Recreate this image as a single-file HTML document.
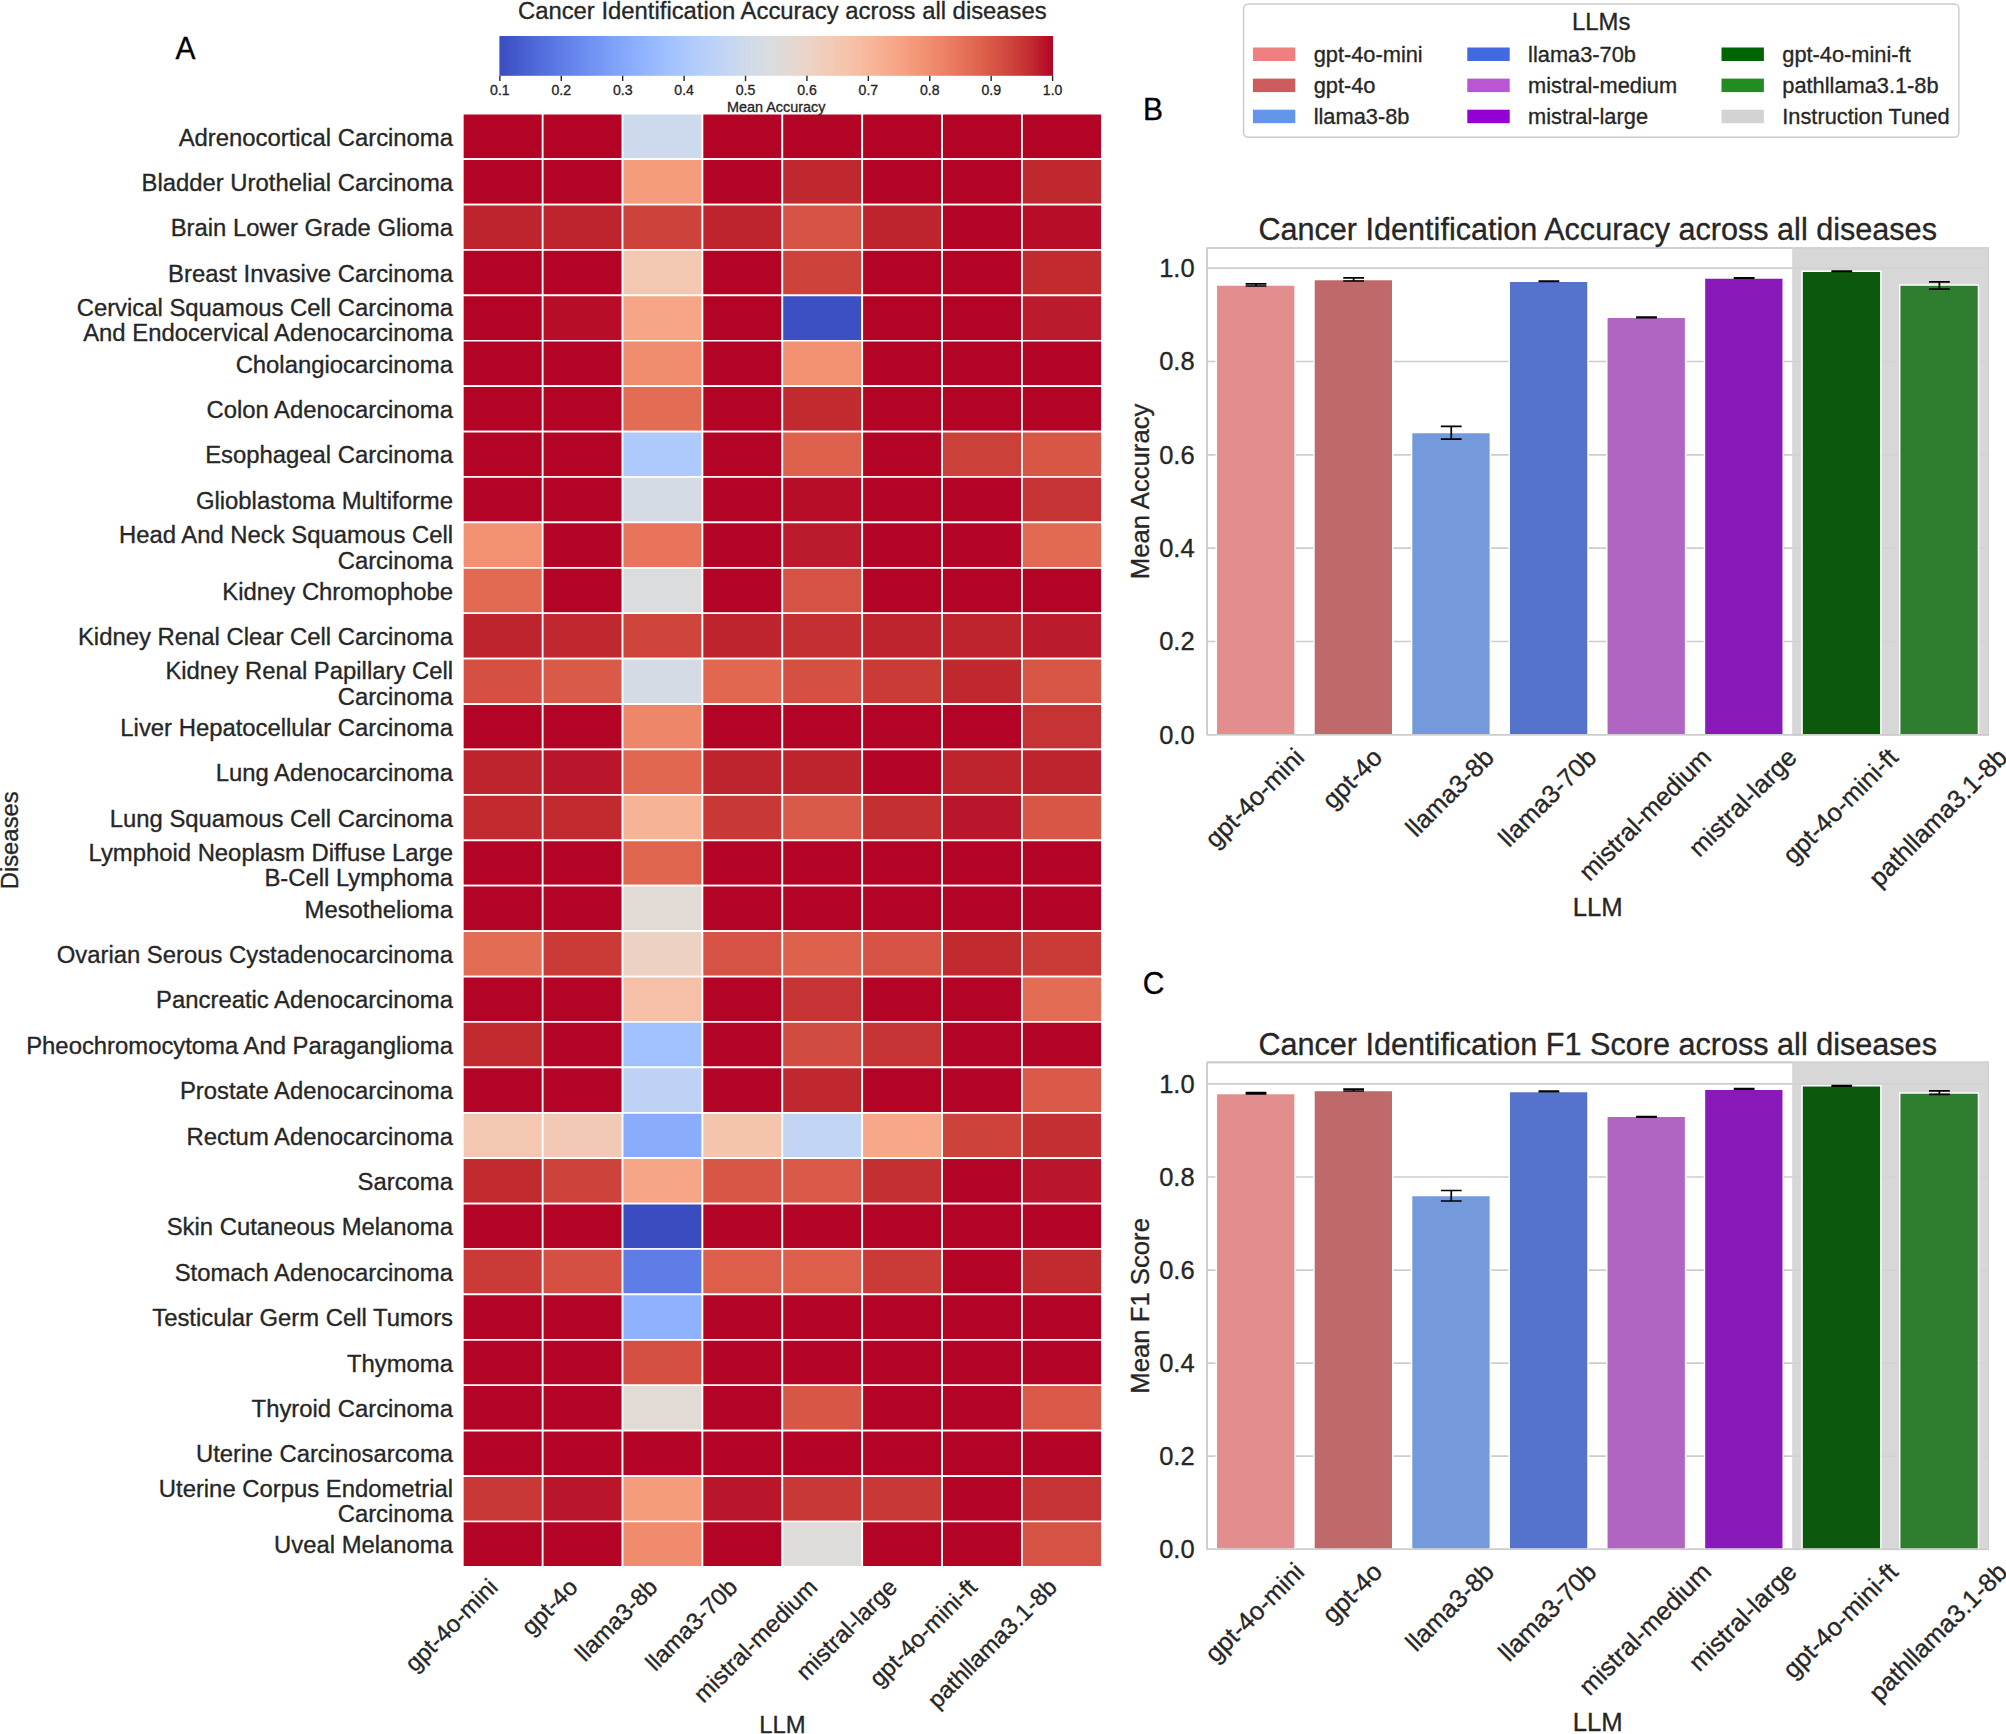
<!DOCTYPE html>
<html><head><meta charset="utf-8"><title>Cancer Identification Accuracy</title>
<style>html,body{margin:0;padding:0;background:#fff}svg{display:block}</style></head>
<body>
<svg width="2006" height="1734" viewBox="0 0 2006 1734" font-family="'Liberation Sans', sans-serif" stroke-linejoin="round">
<style>text{stroke:#262626;stroke-width:0.32px}text.k{stroke:#000}</style>
<rect width="2006" height="1734" fill="#fff"/>
<defs><linearGradient id="cwg" x1="0" x2="1" y1="0" y2="0"><stop offset="0.0000" stop-color="#3b4cc0"/><stop offset="0.0156" stop-color="#3f53c6"/><stop offset="0.0312" stop-color="#445acc"/><stop offset="0.0469" stop-color="#4961d2"/><stop offset="0.0625" stop-color="#4e68d8"/><stop offset="0.0781" stop-color="#536edd"/><stop offset="0.0938" stop-color="#5875e1"/><stop offset="0.1094" stop-color="#5d7ce6"/><stop offset="0.1250" stop-color="#6282ea"/><stop offset="0.1406" stop-color="#6788ee"/><stop offset="0.1562" stop-color="#6c8ff1"/><stop offset="0.1719" stop-color="#7295f4"/><stop offset="0.1875" stop-color="#779af7"/><stop offset="0.2031" stop-color="#7da0f9"/><stop offset="0.2188" stop-color="#82a6fb"/><stop offset="0.2344" stop-color="#88abfd"/><stop offset="0.2500" stop-color="#8db0fe"/><stop offset="0.2656" stop-color="#93b5fe"/><stop offset="0.2812" stop-color="#98b9ff"/><stop offset="0.2969" stop-color="#9ebeff"/><stop offset="0.3125" stop-color="#a3c2fe"/><stop offset="0.3281" stop-color="#a9c6fd"/><stop offset="0.3438" stop-color="#aec9fc"/><stop offset="0.3594" stop-color="#b3cdfb"/><stop offset="0.3750" stop-color="#b9d0f9"/><stop offset="0.3906" stop-color="#bed2f6"/><stop offset="0.4062" stop-color="#c3d5f4"/><stop offset="0.4219" stop-color="#c7d7f0"/><stop offset="0.4375" stop-color="#ccd9ed"/><stop offset="0.4531" stop-color="#d1dae9"/><stop offset="0.4688" stop-color="#d5dbe5"/><stop offset="0.4844" stop-color="#d9dce1"/><stop offset="0.5000" stop-color="#dddcdc"/><stop offset="0.5156" stop-color="#e1dad6"/><stop offset="0.5312" stop-color="#e5d8d1"/><stop offset="0.5469" stop-color="#e9d5cb"/><stop offset="0.5625" stop-color="#ecd3c5"/><stop offset="0.5781" stop-color="#efcfbf"/><stop offset="0.5938" stop-color="#f1ccb8"/><stop offset="0.6094" stop-color="#f3c8b2"/><stop offset="0.6250" stop-color="#f5c4ac"/><stop offset="0.6406" stop-color="#f6bfa6"/><stop offset="0.6562" stop-color="#f7ba9f"/><stop offset="0.6719" stop-color="#f7b599"/><stop offset="0.6875" stop-color="#f7b093"/><stop offset="0.7031" stop-color="#f7aa8c"/><stop offset="0.7188" stop-color="#f6a586"/><stop offset="0.7344" stop-color="#f59f80"/><stop offset="0.7500" stop-color="#f4987a"/><stop offset="0.7656" stop-color="#f29274"/><stop offset="0.7812" stop-color="#f08b6e"/><stop offset="0.7969" stop-color="#ee8468"/><stop offset="0.8125" stop-color="#eb7d62"/><stop offset="0.8281" stop-color="#e8765c"/><stop offset="0.8438" stop-color="#e46e56"/><stop offset="0.8594" stop-color="#e16751"/><stop offset="0.8750" stop-color="#dd5f4b"/><stop offset="0.8906" stop-color="#d85646"/><stop offset="0.9062" stop-color="#d44e41"/><stop offset="0.9219" stop-color="#cf453c"/><stop offset="0.9375" stop-color="#ca3b37"/><stop offset="0.9531" stop-color="#c43032"/><stop offset="0.9688" stop-color="#be242e"/><stop offset="0.9844" stop-color="#b8122a"/><stop offset="1.0000" stop-color="#b40426"/></linearGradient></defs>
<text x="782.35" y="18.60" font-size="23.85" text-anchor="middle" fill="#262626">Cancer Identification Accuracy across all diseases</text>
<rect x="499.4" y="36.0" width="553.6" height="39.8" fill="url(#cwg)"/>
<line x1="499.85" x2="499.85" y1="75.8" y2="81.0" stroke="#262626" stroke-width="1.4"/>
<text x="499.85" y="94.80" font-size="14.1" text-anchor="middle" fill="#262626">0.1</text>
<line x1="561.27" x2="561.27" y1="75.8" y2="81.0" stroke="#262626" stroke-width="1.4"/>
<text x="561.27" y="94.80" font-size="14.1" text-anchor="middle" fill="#262626">0.2</text>
<line x1="622.68" x2="622.68" y1="75.8" y2="81.0" stroke="#262626" stroke-width="1.4"/>
<text x="622.68" y="94.80" font-size="14.1" text-anchor="middle" fill="#262626">0.3</text>
<line x1="684.10" x2="684.10" y1="75.8" y2="81.0" stroke="#262626" stroke-width="1.4"/>
<text x="684.10" y="94.80" font-size="14.1" text-anchor="middle" fill="#262626">0.4</text>
<line x1="745.52" x2="745.52" y1="75.8" y2="81.0" stroke="#262626" stroke-width="1.4"/>
<text x="745.52" y="94.80" font-size="14.1" text-anchor="middle" fill="#262626">0.5</text>
<line x1="806.93" x2="806.93" y1="75.8" y2="81.0" stroke="#262626" stroke-width="1.4"/>
<text x="806.93" y="94.80" font-size="14.1" text-anchor="middle" fill="#262626">0.6</text>
<line x1="868.35" x2="868.35" y1="75.8" y2="81.0" stroke="#262626" stroke-width="1.4"/>
<text x="868.35" y="94.80" font-size="14.1" text-anchor="middle" fill="#262626">0.7</text>
<line x1="929.77" x2="929.77" y1="75.8" y2="81.0" stroke="#262626" stroke-width="1.4"/>
<text x="929.77" y="94.80" font-size="14.1" text-anchor="middle" fill="#262626">0.8</text>
<line x1="991.18" x2="991.18" y1="75.8" y2="81.0" stroke="#262626" stroke-width="1.4"/>
<text x="991.18" y="94.80" font-size="14.1" text-anchor="middle" fill="#262626">0.9</text>
<line x1="1052.60" x2="1052.60" y1="75.8" y2="81.0" stroke="#262626" stroke-width="1.4"/>
<text x="1052.60" y="94.80" font-size="14.1" text-anchor="middle" fill="#262626">1.0</text>
<rect x="462.80" y="113.70" width="79.89" height="45.41" fill="#b40426" stroke="#fff" stroke-width="1.7"/>
<rect x="542.69" y="113.70" width="79.89" height="45.41" fill="#b40426" stroke="#fff" stroke-width="1.7"/>
<rect x="622.58" y="113.70" width="79.89" height="45.41" fill="#cdd9ec" stroke="#fff" stroke-width="1.7"/>
<rect x="702.46" y="113.70" width="79.89" height="45.41" fill="#b40426" stroke="#fff" stroke-width="1.7"/>
<rect x="782.35" y="113.70" width="79.89" height="45.41" fill="#b40426" stroke="#fff" stroke-width="1.7"/>
<rect x="862.24" y="113.70" width="79.89" height="45.41" fill="#b40426" stroke="#fff" stroke-width="1.7"/>
<rect x="942.13" y="113.70" width="79.89" height="45.41" fill="#b40426" stroke="#fff" stroke-width="1.7"/>
<rect x="1022.01" y="113.70" width="79.89" height="45.41" fill="#b40426" stroke="#fff" stroke-width="1.7"/>
<rect x="462.80" y="159.11" width="79.89" height="45.41" fill="#b40426" stroke="#fff" stroke-width="1.7"/>
<rect x="542.69" y="159.11" width="79.89" height="45.41" fill="#b40426" stroke="#fff" stroke-width="1.7"/>
<rect x="622.58" y="159.11" width="79.89" height="45.41" fill="#f59c7d" stroke="#fff" stroke-width="1.7"/>
<rect x="702.46" y="159.11" width="79.89" height="45.41" fill="#b40426" stroke="#fff" stroke-width="1.7"/>
<rect x="782.35" y="159.11" width="79.89" height="45.41" fill="#c0282f" stroke="#fff" stroke-width="1.7"/>
<rect x="862.24" y="159.11" width="79.89" height="45.41" fill="#b40426" stroke="#fff" stroke-width="1.7"/>
<rect x="942.13" y="159.11" width="79.89" height="45.41" fill="#b40426" stroke="#fff" stroke-width="1.7"/>
<rect x="1022.01" y="159.11" width="79.89" height="45.41" fill="#c0282f" stroke="#fff" stroke-width="1.7"/>
<rect x="462.80" y="204.53" width="79.89" height="45.41" fill="#be242e" stroke="#fff" stroke-width="1.7"/>
<rect x="542.69" y="204.53" width="79.89" height="45.41" fill="#be242e" stroke="#fff" stroke-width="1.7"/>
<rect x="622.58" y="204.53" width="79.89" height="45.41" fill="#cd423b" stroke="#fff" stroke-width="1.7"/>
<rect x="702.46" y="204.53" width="79.89" height="45.41" fill="#be242e" stroke="#fff" stroke-width="1.7"/>
<rect x="782.35" y="204.53" width="79.89" height="45.41" fill="#d65244" stroke="#fff" stroke-width="1.7"/>
<rect x="862.24" y="204.53" width="79.89" height="45.41" fill="#be242e" stroke="#fff" stroke-width="1.7"/>
<rect x="942.13" y="204.53" width="79.89" height="45.41" fill="#b40426" stroke="#fff" stroke-width="1.7"/>
<rect x="1022.01" y="204.53" width="79.89" height="45.41" fill="#b70d28" stroke="#fff" stroke-width="1.7"/>
<rect x="462.80" y="249.94" width="79.89" height="45.41" fill="#b40426" stroke="#fff" stroke-width="1.7"/>
<rect x="542.69" y="249.94" width="79.89" height="45.41" fill="#b40426" stroke="#fff" stroke-width="1.7"/>
<rect x="622.58" y="249.94" width="79.89" height="45.41" fill="#f3c8b2" stroke="#fff" stroke-width="1.7"/>
<rect x="702.46" y="249.94" width="79.89" height="45.41" fill="#b40426" stroke="#fff" stroke-width="1.7"/>
<rect x="782.35" y="249.94" width="79.89" height="45.41" fill="#cd423b" stroke="#fff" stroke-width="1.7"/>
<rect x="862.24" y="249.94" width="79.89" height="45.41" fill="#b40426" stroke="#fff" stroke-width="1.7"/>
<rect x="942.13" y="249.94" width="79.89" height="45.41" fill="#b40426" stroke="#fff" stroke-width="1.7"/>
<rect x="1022.01" y="249.94" width="79.89" height="45.41" fill="#c12b30" stroke="#fff" stroke-width="1.7"/>
<rect x="462.80" y="295.35" width="79.89" height="45.41" fill="#b40426" stroke="#fff" stroke-width="1.7"/>
<rect x="542.69" y="295.35" width="79.89" height="45.41" fill="#b70d28" stroke="#fff" stroke-width="1.7"/>
<rect x="622.58" y="295.35" width="79.89" height="45.41" fill="#f6a586" stroke="#fff" stroke-width="1.7"/>
<rect x="702.46" y="295.35" width="79.89" height="45.41" fill="#b40426" stroke="#fff" stroke-width="1.7"/>
<rect x="782.35" y="295.35" width="79.89" height="45.41" fill="#3d50c3" stroke="#fff" stroke-width="1.7"/>
<rect x="862.24" y="295.35" width="79.89" height="45.41" fill="#b40426" stroke="#fff" stroke-width="1.7"/>
<rect x="942.13" y="295.35" width="79.89" height="45.41" fill="#b40426" stroke="#fff" stroke-width="1.7"/>
<rect x="1022.01" y="295.35" width="79.89" height="45.41" fill="#bb1b2c" stroke="#fff" stroke-width="1.7"/>
<rect x="462.80" y="340.76" width="79.89" height="45.41" fill="#b40426" stroke="#fff" stroke-width="1.7"/>
<rect x="542.69" y="340.76" width="79.89" height="45.41" fill="#b40426" stroke="#fff" stroke-width="1.7"/>
<rect x="622.58" y="340.76" width="79.89" height="45.41" fill="#f18d6f" stroke="#fff" stroke-width="1.7"/>
<rect x="702.46" y="340.76" width="79.89" height="45.41" fill="#b40426" stroke="#fff" stroke-width="1.7"/>
<rect x="782.35" y="340.76" width="79.89" height="45.41" fill="#f29072" stroke="#fff" stroke-width="1.7"/>
<rect x="862.24" y="340.76" width="79.89" height="45.41" fill="#b40426" stroke="#fff" stroke-width="1.7"/>
<rect x="942.13" y="340.76" width="79.89" height="45.41" fill="#b40426" stroke="#fff" stroke-width="1.7"/>
<rect x="1022.01" y="340.76" width="79.89" height="45.41" fill="#b40426" stroke="#fff" stroke-width="1.7"/>
<rect x="462.80" y="386.18" width="79.89" height="45.41" fill="#b40426" stroke="#fff" stroke-width="1.7"/>
<rect x="542.69" y="386.18" width="79.89" height="45.41" fill="#b40426" stroke="#fff" stroke-width="1.7"/>
<rect x="622.58" y="386.18" width="79.89" height="45.41" fill="#e36c55" stroke="#fff" stroke-width="1.7"/>
<rect x="702.46" y="386.18" width="79.89" height="45.41" fill="#b40426" stroke="#fff" stroke-width="1.7"/>
<rect x="782.35" y="386.18" width="79.89" height="45.41" fill="#c12b30" stroke="#fff" stroke-width="1.7"/>
<rect x="862.24" y="386.18" width="79.89" height="45.41" fill="#b40426" stroke="#fff" stroke-width="1.7"/>
<rect x="942.13" y="386.18" width="79.89" height="45.41" fill="#b40426" stroke="#fff" stroke-width="1.7"/>
<rect x="1022.01" y="386.18" width="79.89" height="45.41" fill="#b40426" stroke="#fff" stroke-width="1.7"/>
<rect x="462.80" y="431.59" width="79.89" height="45.41" fill="#b40426" stroke="#fff" stroke-width="1.7"/>
<rect x="542.69" y="431.59" width="79.89" height="45.41" fill="#b40426" stroke="#fff" stroke-width="1.7"/>
<rect x="622.58" y="431.59" width="79.89" height="45.41" fill="#aec9fc" stroke="#fff" stroke-width="1.7"/>
<rect x="702.46" y="431.59" width="79.89" height="45.41" fill="#b40426" stroke="#fff" stroke-width="1.7"/>
<rect x="782.35" y="431.59" width="79.89" height="45.41" fill="#de614d" stroke="#fff" stroke-width="1.7"/>
<rect x="862.24" y="431.59" width="79.89" height="45.41" fill="#b40426" stroke="#fff" stroke-width="1.7"/>
<rect x="942.13" y="431.59" width="79.89" height="45.41" fill="#cc403a" stroke="#fff" stroke-width="1.7"/>
<rect x="1022.01" y="431.59" width="79.89" height="45.41" fill="#d85646" stroke="#fff" stroke-width="1.7"/>
<rect x="462.80" y="477.00" width="79.89" height="45.41" fill="#b40426" stroke="#fff" stroke-width="1.7"/>
<rect x="542.69" y="477.00" width="79.89" height="45.41" fill="#b40426" stroke="#fff" stroke-width="1.7"/>
<rect x="622.58" y="477.00" width="79.89" height="45.41" fill="#d5dbe5" stroke="#fff" stroke-width="1.7"/>
<rect x="702.46" y="477.00" width="79.89" height="45.41" fill="#b40426" stroke="#fff" stroke-width="1.7"/>
<rect x="782.35" y="477.00" width="79.89" height="45.41" fill="#b70d28" stroke="#fff" stroke-width="1.7"/>
<rect x="862.24" y="477.00" width="79.89" height="45.41" fill="#b40426" stroke="#fff" stroke-width="1.7"/>
<rect x="942.13" y="477.00" width="79.89" height="45.41" fill="#b40426" stroke="#fff" stroke-width="1.7"/>
<rect x="1022.01" y="477.00" width="79.89" height="45.41" fill="#c53334" stroke="#fff" stroke-width="1.7"/>
<rect x="462.80" y="522.41" width="79.89" height="45.41" fill="#f29072" stroke="#fff" stroke-width="1.7"/>
<rect x="542.69" y="522.41" width="79.89" height="45.41" fill="#b40426" stroke="#fff" stroke-width="1.7"/>
<rect x="622.58" y="522.41" width="79.89" height="45.41" fill="#e7745b" stroke="#fff" stroke-width="1.7"/>
<rect x="702.46" y="522.41" width="79.89" height="45.41" fill="#b40426" stroke="#fff" stroke-width="1.7"/>
<rect x="782.35" y="522.41" width="79.89" height="45.41" fill="#bb1b2c" stroke="#fff" stroke-width="1.7"/>
<rect x="862.24" y="522.41" width="79.89" height="45.41" fill="#b40426" stroke="#fff" stroke-width="1.7"/>
<rect x="942.13" y="522.41" width="79.89" height="45.41" fill="#b40426" stroke="#fff" stroke-width="1.7"/>
<rect x="1022.01" y="522.41" width="79.89" height="45.41" fill="#e26952" stroke="#fff" stroke-width="1.7"/>
<rect x="462.80" y="567.83" width="79.89" height="45.41" fill="#e26952" stroke="#fff" stroke-width="1.7"/>
<rect x="542.69" y="567.83" width="79.89" height="45.41" fill="#b40426" stroke="#fff" stroke-width="1.7"/>
<rect x="622.58" y="567.83" width="79.89" height="45.41" fill="#dbdcde" stroke="#fff" stroke-width="1.7"/>
<rect x="702.46" y="567.83" width="79.89" height="45.41" fill="#b40426" stroke="#fff" stroke-width="1.7"/>
<rect x="782.35" y="567.83" width="79.89" height="45.41" fill="#d65244" stroke="#fff" stroke-width="1.7"/>
<rect x="862.24" y="567.83" width="79.89" height="45.41" fill="#b40426" stroke="#fff" stroke-width="1.7"/>
<rect x="942.13" y="567.83" width="79.89" height="45.41" fill="#b40426" stroke="#fff" stroke-width="1.7"/>
<rect x="1022.01" y="567.83" width="79.89" height="45.41" fill="#b40426" stroke="#fff" stroke-width="1.7"/>
<rect x="462.80" y="613.24" width="79.89" height="45.41" fill="#be242e" stroke="#fff" stroke-width="1.7"/>
<rect x="542.69" y="613.24" width="79.89" height="45.41" fill="#c0282f" stroke="#fff" stroke-width="1.7"/>
<rect x="622.58" y="613.24" width="79.89" height="45.41" fill="#cf453c" stroke="#fff" stroke-width="1.7"/>
<rect x="702.46" y="613.24" width="79.89" height="45.41" fill="#be242e" stroke="#fff" stroke-width="1.7"/>
<rect x="782.35" y="613.24" width="79.89" height="45.41" fill="#c43032" stroke="#fff" stroke-width="1.7"/>
<rect x="862.24" y="613.24" width="79.89" height="45.41" fill="#be242e" stroke="#fff" stroke-width="1.7"/>
<rect x="942.13" y="613.24" width="79.89" height="45.41" fill="#be242e" stroke="#fff" stroke-width="1.7"/>
<rect x="1022.01" y="613.24" width="79.89" height="45.41" fill="#bb1b2c" stroke="#fff" stroke-width="1.7"/>
<rect x="462.80" y="658.65" width="79.89" height="45.41" fill="#d55042" stroke="#fff" stroke-width="1.7"/>
<rect x="542.69" y="658.65" width="79.89" height="45.41" fill="#da5a49" stroke="#fff" stroke-width="1.7"/>
<rect x="622.58" y="658.65" width="79.89" height="45.41" fill="#d5dbe5" stroke="#fff" stroke-width="1.7"/>
<rect x="702.46" y="658.65" width="79.89" height="45.41" fill="#e16751" stroke="#fff" stroke-width="1.7"/>
<rect x="782.35" y="658.65" width="79.89" height="45.41" fill="#d55042" stroke="#fff" stroke-width="1.7"/>
<rect x="862.24" y="658.65" width="79.89" height="45.41" fill="#ca3b37" stroke="#fff" stroke-width="1.7"/>
<rect x="942.13" y="658.65" width="79.89" height="45.41" fill="#c0282f" stroke="#fff" stroke-width="1.7"/>
<rect x="1022.01" y="658.65" width="79.89" height="45.41" fill="#d85646" stroke="#fff" stroke-width="1.7"/>
<rect x="462.80" y="704.06" width="79.89" height="45.41" fill="#b40426" stroke="#fff" stroke-width="1.7"/>
<rect x="542.69" y="704.06" width="79.89" height="45.41" fill="#b40426" stroke="#fff" stroke-width="1.7"/>
<rect x="622.58" y="704.06" width="79.89" height="45.41" fill="#ee8669" stroke="#fff" stroke-width="1.7"/>
<rect x="702.46" y="704.06" width="79.89" height="45.41" fill="#b40426" stroke="#fff" stroke-width="1.7"/>
<rect x="782.35" y="704.06" width="79.89" height="45.41" fill="#b40426" stroke="#fff" stroke-width="1.7"/>
<rect x="862.24" y="704.06" width="79.89" height="45.41" fill="#b40426" stroke="#fff" stroke-width="1.7"/>
<rect x="942.13" y="704.06" width="79.89" height="45.41" fill="#b40426" stroke="#fff" stroke-width="1.7"/>
<rect x="1022.01" y="704.06" width="79.89" height="45.41" fill="#c53334" stroke="#fff" stroke-width="1.7"/>
<rect x="462.80" y="749.48" width="79.89" height="45.41" fill="#be242e" stroke="#fff" stroke-width="1.7"/>
<rect x="542.69" y="749.48" width="79.89" height="45.41" fill="#ba162b" stroke="#fff" stroke-width="1.7"/>
<rect x="622.58" y="749.48" width="79.89" height="45.41" fill="#e16751" stroke="#fff" stroke-width="1.7"/>
<rect x="702.46" y="749.48" width="79.89" height="45.41" fill="#be242e" stroke="#fff" stroke-width="1.7"/>
<rect x="782.35" y="749.48" width="79.89" height="45.41" fill="#be242e" stroke="#fff" stroke-width="1.7"/>
<rect x="862.24" y="749.48" width="79.89" height="45.41" fill="#b40426" stroke="#fff" stroke-width="1.7"/>
<rect x="942.13" y="749.48" width="79.89" height="45.41" fill="#be242e" stroke="#fff" stroke-width="1.7"/>
<rect x="1022.01" y="749.48" width="79.89" height="45.41" fill="#be242e" stroke="#fff" stroke-width="1.7"/>
<rect x="462.80" y="794.89" width="79.89" height="45.41" fill="#c12b30" stroke="#fff" stroke-width="1.7"/>
<rect x="542.69" y="794.89" width="79.89" height="45.41" fill="#c12b30" stroke="#fff" stroke-width="1.7"/>
<rect x="622.58" y="794.89" width="79.89" height="45.41" fill="#f7b396" stroke="#fff" stroke-width="1.7"/>
<rect x="702.46" y="794.89" width="79.89" height="45.41" fill="#c83836" stroke="#fff" stroke-width="1.7"/>
<rect x="782.35" y="794.89" width="79.89" height="45.41" fill="#da5a49" stroke="#fff" stroke-width="1.7"/>
<rect x="862.24" y="794.89" width="79.89" height="45.41" fill="#c43032" stroke="#fff" stroke-width="1.7"/>
<rect x="942.13" y="794.89" width="79.89" height="45.41" fill="#ba162b" stroke="#fff" stroke-width="1.7"/>
<rect x="1022.01" y="794.89" width="79.89" height="45.41" fill="#d85646" stroke="#fff" stroke-width="1.7"/>
<rect x="462.80" y="840.30" width="79.89" height="45.41" fill="#b40426" stroke="#fff" stroke-width="1.7"/>
<rect x="542.69" y="840.30" width="79.89" height="45.41" fill="#b40426" stroke="#fff" stroke-width="1.7"/>
<rect x="622.58" y="840.30" width="79.89" height="45.41" fill="#e0654f" stroke="#fff" stroke-width="1.7"/>
<rect x="702.46" y="840.30" width="79.89" height="45.41" fill="#b40426" stroke="#fff" stroke-width="1.7"/>
<rect x="782.35" y="840.30" width="79.89" height="45.41" fill="#b40426" stroke="#fff" stroke-width="1.7"/>
<rect x="862.24" y="840.30" width="79.89" height="45.41" fill="#b40426" stroke="#fff" stroke-width="1.7"/>
<rect x="942.13" y="840.30" width="79.89" height="45.41" fill="#b40426" stroke="#fff" stroke-width="1.7"/>
<rect x="1022.01" y="840.30" width="79.89" height="45.41" fill="#b40426" stroke="#fff" stroke-width="1.7"/>
<rect x="462.80" y="885.71" width="79.89" height="45.41" fill="#b40426" stroke="#fff" stroke-width="1.7"/>
<rect x="542.69" y="885.71" width="79.89" height="45.41" fill="#b40426" stroke="#fff" stroke-width="1.7"/>
<rect x="622.58" y="885.71" width="79.89" height="45.41" fill="#e2dad5" stroke="#fff" stroke-width="1.7"/>
<rect x="702.46" y="885.71" width="79.89" height="45.41" fill="#b40426" stroke="#fff" stroke-width="1.7"/>
<rect x="782.35" y="885.71" width="79.89" height="45.41" fill="#b40426" stroke="#fff" stroke-width="1.7"/>
<rect x="862.24" y="885.71" width="79.89" height="45.41" fill="#b40426" stroke="#fff" stroke-width="1.7"/>
<rect x="942.13" y="885.71" width="79.89" height="45.41" fill="#b40426" stroke="#fff" stroke-width="1.7"/>
<rect x="1022.01" y="885.71" width="79.89" height="45.41" fill="#b40426" stroke="#fff" stroke-width="1.7"/>
<rect x="462.80" y="931.13" width="79.89" height="45.41" fill="#e36c55" stroke="#fff" stroke-width="1.7"/>
<rect x="542.69" y="931.13" width="79.89" height="45.41" fill="#ca3b37" stroke="#fff" stroke-width="1.7"/>
<rect x="622.58" y="931.13" width="79.89" height="45.41" fill="#edd1c2" stroke="#fff" stroke-width="1.7"/>
<rect x="702.46" y="931.13" width="79.89" height="45.41" fill="#d65244" stroke="#fff" stroke-width="1.7"/>
<rect x="782.35" y="931.13" width="79.89" height="45.41" fill="#de614d" stroke="#fff" stroke-width="1.7"/>
<rect x="862.24" y="931.13" width="79.89" height="45.41" fill="#d65244" stroke="#fff" stroke-width="1.7"/>
<rect x="942.13" y="931.13" width="79.89" height="45.41" fill="#c12b30" stroke="#fff" stroke-width="1.7"/>
<rect x="1022.01" y="931.13" width="79.89" height="45.41" fill="#ca3b37" stroke="#fff" stroke-width="1.7"/>
<rect x="462.80" y="976.54" width="79.89" height="45.41" fill="#b40426" stroke="#fff" stroke-width="1.7"/>
<rect x="542.69" y="976.54" width="79.89" height="45.41" fill="#b40426" stroke="#fff" stroke-width="1.7"/>
<rect x="622.58" y="976.54" width="79.89" height="45.41" fill="#f5c0a7" stroke="#fff" stroke-width="1.7"/>
<rect x="702.46" y="976.54" width="79.89" height="45.41" fill="#b40426" stroke="#fff" stroke-width="1.7"/>
<rect x="782.35" y="976.54" width="79.89" height="45.41" fill="#c53334" stroke="#fff" stroke-width="1.7"/>
<rect x="862.24" y="976.54" width="79.89" height="45.41" fill="#b40426" stroke="#fff" stroke-width="1.7"/>
<rect x="942.13" y="976.54" width="79.89" height="45.41" fill="#b40426" stroke="#fff" stroke-width="1.7"/>
<rect x="1022.01" y="976.54" width="79.89" height="45.41" fill="#e36c55" stroke="#fff" stroke-width="1.7"/>
<rect x="462.80" y="1021.95" width="79.89" height="45.41" fill="#c12b30" stroke="#fff" stroke-width="1.7"/>
<rect x="542.69" y="1021.95" width="79.89" height="45.41" fill="#b40426" stroke="#fff" stroke-width="1.7"/>
<rect x="622.58" y="1021.95" width="79.89" height="45.41" fill="#a1c0ff" stroke="#fff" stroke-width="1.7"/>
<rect x="702.46" y="1021.95" width="79.89" height="45.41" fill="#b40426" stroke="#fff" stroke-width="1.7"/>
<rect x="782.35" y="1021.95" width="79.89" height="45.41" fill="#d24b40" stroke="#fff" stroke-width="1.7"/>
<rect x="862.24" y="1021.95" width="79.89" height="45.41" fill="#c53334" stroke="#fff" stroke-width="1.7"/>
<rect x="942.13" y="1021.95" width="79.89" height="45.41" fill="#b40426" stroke="#fff" stroke-width="1.7"/>
<rect x="1022.01" y="1021.95" width="79.89" height="45.41" fill="#b40426" stroke="#fff" stroke-width="1.7"/>
<rect x="462.80" y="1067.36" width="79.89" height="45.41" fill="#b40426" stroke="#fff" stroke-width="1.7"/>
<rect x="542.69" y="1067.36" width="79.89" height="45.41" fill="#b40426" stroke="#fff" stroke-width="1.7"/>
<rect x="622.58" y="1067.36" width="79.89" height="45.41" fill="#bed2f6" stroke="#fff" stroke-width="1.7"/>
<rect x="702.46" y="1067.36" width="79.89" height="45.41" fill="#b40426" stroke="#fff" stroke-width="1.7"/>
<rect x="782.35" y="1067.36" width="79.89" height="45.41" fill="#c0282f" stroke="#fff" stroke-width="1.7"/>
<rect x="862.24" y="1067.36" width="79.89" height="45.41" fill="#b40426" stroke="#fff" stroke-width="1.7"/>
<rect x="942.13" y="1067.36" width="79.89" height="45.41" fill="#b40426" stroke="#fff" stroke-width="1.7"/>
<rect x="1022.01" y="1067.36" width="79.89" height="45.41" fill="#d95847" stroke="#fff" stroke-width="1.7"/>
<rect x="462.80" y="1112.78" width="79.89" height="45.41" fill="#f3c7b1" stroke="#fff" stroke-width="1.7"/>
<rect x="542.69" y="1112.78" width="79.89" height="45.41" fill="#f2c9b4" stroke="#fff" stroke-width="1.7"/>
<rect x="622.58" y="1112.78" width="79.89" height="45.41" fill="#89acfd" stroke="#fff" stroke-width="1.7"/>
<rect x="702.46" y="1112.78" width="79.89" height="45.41" fill="#f5c4ac" stroke="#fff" stroke-width="1.7"/>
<rect x="782.35" y="1112.78" width="79.89" height="45.41" fill="#c1d4f4" stroke="#fff" stroke-width="1.7"/>
<rect x="862.24" y="1112.78" width="79.89" height="45.41" fill="#f7a889" stroke="#fff" stroke-width="1.7"/>
<rect x="942.13" y="1112.78" width="79.89" height="45.41" fill="#cd423b" stroke="#fff" stroke-width="1.7"/>
<rect x="1022.01" y="1112.78" width="79.89" height="45.41" fill="#c43032" stroke="#fff" stroke-width="1.7"/>
<rect x="462.80" y="1158.19" width="79.89" height="45.41" fill="#c12b30" stroke="#fff" stroke-width="1.7"/>
<rect x="542.69" y="1158.19" width="79.89" height="45.41" fill="#cd423b" stroke="#fff" stroke-width="1.7"/>
<rect x="622.58" y="1158.19" width="79.89" height="45.41" fill="#f6a586" stroke="#fff" stroke-width="1.7"/>
<rect x="702.46" y="1158.19" width="79.89" height="45.41" fill="#d85646" stroke="#fff" stroke-width="1.7"/>
<rect x="782.35" y="1158.19" width="79.89" height="45.41" fill="#d95847" stroke="#fff" stroke-width="1.7"/>
<rect x="862.24" y="1158.19" width="79.89" height="45.41" fill="#c43032" stroke="#fff" stroke-width="1.7"/>
<rect x="942.13" y="1158.19" width="79.89" height="45.41" fill="#b40426" stroke="#fff" stroke-width="1.7"/>
<rect x="1022.01" y="1158.19" width="79.89" height="45.41" fill="#ba162b" stroke="#fff" stroke-width="1.7"/>
<rect x="462.80" y="1203.60" width="79.89" height="45.41" fill="#b40426" stroke="#fff" stroke-width="1.7"/>
<rect x="542.69" y="1203.60" width="79.89" height="45.41" fill="#b40426" stroke="#fff" stroke-width="1.7"/>
<rect x="622.58" y="1203.60" width="79.89" height="45.41" fill="#3b4cc0" stroke="#fff" stroke-width="1.7"/>
<rect x="702.46" y="1203.60" width="79.89" height="45.41" fill="#b40426" stroke="#fff" stroke-width="1.7"/>
<rect x="782.35" y="1203.60" width="79.89" height="45.41" fill="#b40426" stroke="#fff" stroke-width="1.7"/>
<rect x="862.24" y="1203.60" width="79.89" height="45.41" fill="#b40426" stroke="#fff" stroke-width="1.7"/>
<rect x="942.13" y="1203.60" width="79.89" height="45.41" fill="#b40426" stroke="#fff" stroke-width="1.7"/>
<rect x="1022.01" y="1203.60" width="79.89" height="45.41" fill="#b40426" stroke="#fff" stroke-width="1.7"/>
<rect x="462.80" y="1249.01" width="79.89" height="45.41" fill="#ca3b37" stroke="#fff" stroke-width="1.7"/>
<rect x="542.69" y="1249.01" width="79.89" height="45.41" fill="#d55042" stroke="#fff" stroke-width="1.7"/>
<rect x="622.58" y="1249.01" width="79.89" height="45.41" fill="#5e7de7" stroke="#fff" stroke-width="1.7"/>
<rect x="702.46" y="1249.01" width="79.89" height="45.41" fill="#dd5f4b" stroke="#fff" stroke-width="1.7"/>
<rect x="782.35" y="1249.01" width="79.89" height="45.41" fill="#dd5f4b" stroke="#fff" stroke-width="1.7"/>
<rect x="862.24" y="1249.01" width="79.89" height="45.41" fill="#ca3b37" stroke="#fff" stroke-width="1.7"/>
<rect x="942.13" y="1249.01" width="79.89" height="45.41" fill="#b40426" stroke="#fff" stroke-width="1.7"/>
<rect x="1022.01" y="1249.01" width="79.89" height="45.41" fill="#c12b30" stroke="#fff" stroke-width="1.7"/>
<rect x="462.80" y="1294.43" width="79.89" height="45.41" fill="#b40426" stroke="#fff" stroke-width="1.7"/>
<rect x="542.69" y="1294.43" width="79.89" height="45.41" fill="#b40426" stroke="#fff" stroke-width="1.7"/>
<rect x="622.58" y="1294.43" width="79.89" height="45.41" fill="#90b2fe" stroke="#fff" stroke-width="1.7"/>
<rect x="702.46" y="1294.43" width="79.89" height="45.41" fill="#b40426" stroke="#fff" stroke-width="1.7"/>
<rect x="782.35" y="1294.43" width="79.89" height="45.41" fill="#b40426" stroke="#fff" stroke-width="1.7"/>
<rect x="862.24" y="1294.43" width="79.89" height="45.41" fill="#b40426" stroke="#fff" stroke-width="1.7"/>
<rect x="942.13" y="1294.43" width="79.89" height="45.41" fill="#b40426" stroke="#fff" stroke-width="1.7"/>
<rect x="1022.01" y="1294.43" width="79.89" height="45.41" fill="#b40426" stroke="#fff" stroke-width="1.7"/>
<rect x="462.80" y="1339.84" width="79.89" height="45.41" fill="#b40426" stroke="#fff" stroke-width="1.7"/>
<rect x="542.69" y="1339.84" width="79.89" height="45.41" fill="#b40426" stroke="#fff" stroke-width="1.7"/>
<rect x="622.58" y="1339.84" width="79.89" height="45.41" fill="#d55042" stroke="#fff" stroke-width="1.7"/>
<rect x="702.46" y="1339.84" width="79.89" height="45.41" fill="#b40426" stroke="#fff" stroke-width="1.7"/>
<rect x="782.35" y="1339.84" width="79.89" height="45.41" fill="#b40426" stroke="#fff" stroke-width="1.7"/>
<rect x="862.24" y="1339.84" width="79.89" height="45.41" fill="#b40426" stroke="#fff" stroke-width="1.7"/>
<rect x="942.13" y="1339.84" width="79.89" height="45.41" fill="#b40426" stroke="#fff" stroke-width="1.7"/>
<rect x="1022.01" y="1339.84" width="79.89" height="45.41" fill="#b40426" stroke="#fff" stroke-width="1.7"/>
<rect x="462.80" y="1385.25" width="79.89" height="45.41" fill="#b40426" stroke="#fff" stroke-width="1.7"/>
<rect x="542.69" y="1385.25" width="79.89" height="45.41" fill="#b40426" stroke="#fff" stroke-width="1.7"/>
<rect x="622.58" y="1385.25" width="79.89" height="45.41" fill="#e2dad5" stroke="#fff" stroke-width="1.7"/>
<rect x="702.46" y="1385.25" width="79.89" height="45.41" fill="#b40426" stroke="#fff" stroke-width="1.7"/>
<rect x="782.35" y="1385.25" width="79.89" height="45.41" fill="#d85646" stroke="#fff" stroke-width="1.7"/>
<rect x="862.24" y="1385.25" width="79.89" height="45.41" fill="#b40426" stroke="#fff" stroke-width="1.7"/>
<rect x="942.13" y="1385.25" width="79.89" height="45.41" fill="#b40426" stroke="#fff" stroke-width="1.7"/>
<rect x="1022.01" y="1385.25" width="79.89" height="45.41" fill="#d95847" stroke="#fff" stroke-width="1.7"/>
<rect x="462.80" y="1430.66" width="79.89" height="45.41" fill="#b40426" stroke="#fff" stroke-width="1.7"/>
<rect x="542.69" y="1430.66" width="79.89" height="45.41" fill="#b40426" stroke="#fff" stroke-width="1.7"/>
<rect x="622.58" y="1430.66" width="79.89" height="45.41" fill="#b40426" stroke="#fff" stroke-width="1.7"/>
<rect x="702.46" y="1430.66" width="79.89" height="45.41" fill="#b40426" stroke="#fff" stroke-width="1.7"/>
<rect x="782.35" y="1430.66" width="79.89" height="45.41" fill="#b40426" stroke="#fff" stroke-width="1.7"/>
<rect x="862.24" y="1430.66" width="79.89" height="45.41" fill="#b40426" stroke="#fff" stroke-width="1.7"/>
<rect x="942.13" y="1430.66" width="79.89" height="45.41" fill="#b40426" stroke="#fff" stroke-width="1.7"/>
<rect x="1022.01" y="1430.66" width="79.89" height="45.41" fill="#b40426" stroke="#fff" stroke-width="1.7"/>
<rect x="462.80" y="1476.08" width="79.89" height="45.41" fill="#c83836" stroke="#fff" stroke-width="1.7"/>
<rect x="542.69" y="1476.08" width="79.89" height="45.41" fill="#ba162b" stroke="#fff" stroke-width="1.7"/>
<rect x="622.58" y="1476.08" width="79.89" height="45.41" fill="#f59c7d" stroke="#fff" stroke-width="1.7"/>
<rect x="702.46" y="1476.08" width="79.89" height="45.41" fill="#ba162b" stroke="#fff" stroke-width="1.7"/>
<rect x="782.35" y="1476.08" width="79.89" height="45.41" fill="#c83836" stroke="#fff" stroke-width="1.7"/>
<rect x="862.24" y="1476.08" width="79.89" height="45.41" fill="#c83836" stroke="#fff" stroke-width="1.7"/>
<rect x="942.13" y="1476.08" width="79.89" height="45.41" fill="#b40426" stroke="#fff" stroke-width="1.7"/>
<rect x="1022.01" y="1476.08" width="79.89" height="45.41" fill="#c53334" stroke="#fff" stroke-width="1.7"/>
<rect x="462.80" y="1521.49" width="79.89" height="45.41" fill="#b40426" stroke="#fff" stroke-width="1.7"/>
<rect x="542.69" y="1521.49" width="79.89" height="45.41" fill="#b40426" stroke="#fff" stroke-width="1.7"/>
<rect x="622.58" y="1521.49" width="79.89" height="45.41" fill="#f08b6e" stroke="#fff" stroke-width="1.7"/>
<rect x="702.46" y="1521.49" width="79.89" height="45.41" fill="#b40426" stroke="#fff" stroke-width="1.7"/>
<rect x="782.35" y="1521.49" width="79.89" height="45.41" fill="#dedcdb" stroke="#fff" stroke-width="1.7"/>
<rect x="862.24" y="1521.49" width="79.89" height="45.41" fill="#b40426" stroke="#fff" stroke-width="1.7"/>
<rect x="942.13" y="1521.49" width="79.89" height="45.41" fill="#b40426" stroke="#fff" stroke-width="1.7"/>
<rect x="1022.01" y="1521.49" width="79.89" height="45.41" fill="#d65244" stroke="#fff" stroke-width="1.7"/>
<text x="776.20" y="111.70" font-size="14.4" text-anchor="middle" fill="#262626">Mean Accuracy</text>
<text x="453.00" y="145.51" font-size="23.85" text-anchor="end" fill="#262626">Adrenocortical Carcinoma</text>
<text x="453.00" y="190.92" font-size="23.85" text-anchor="end" fill="#262626">Bladder Urothelial Carcinoma</text>
<text x="453.00" y="236.33" font-size="23.85" text-anchor="end" fill="#262626">Brain Lower Grade Glioma</text>
<text x="453.00" y="281.74" font-size="23.85" text-anchor="end" fill="#262626">Breast Invasive Carcinoma</text>
<text x="453.00" y="315.96" font-size="23.85" text-anchor="end" fill="#262626">Cervical Squamous Cell Carcinoma</text>
<text x="453.00" y="341.46" font-size="23.85" text-anchor="end" fill="#262626">And Endocervical Adenocarcinoma</text>
<text x="453.00" y="372.57" font-size="23.85" text-anchor="end" fill="#262626">Cholangiocarcinoma</text>
<text x="453.00" y="417.98" font-size="23.85" text-anchor="end" fill="#262626">Colon Adenocarcinoma</text>
<text x="453.00" y="463.39" font-size="23.85" text-anchor="end" fill="#262626">Esophageal Carcinoma</text>
<text x="453.00" y="508.81" font-size="23.85" text-anchor="end" fill="#262626">Glioblastoma Multiforme</text>
<text x="453.00" y="543.02" font-size="23.85" text-anchor="end" fill="#262626">Head And Neck Squamous Cell</text>
<text x="453.00" y="568.52" font-size="23.85" text-anchor="end" fill="#262626">Carcinoma</text>
<text x="453.00" y="599.63" font-size="23.85" text-anchor="end" fill="#262626">Kidney Chromophobe</text>
<text x="453.00" y="645.04" font-size="23.85" text-anchor="end" fill="#262626">Kidney Renal Clear Cell Carcinoma</text>
<text x="453.00" y="679.26" font-size="23.85" text-anchor="end" fill="#262626">Kidney Renal Papillary Cell</text>
<text x="453.00" y="704.76" font-size="23.85" text-anchor="end" fill="#262626">Carcinoma</text>
<text x="453.00" y="735.87" font-size="23.85" text-anchor="end" fill="#262626">Liver Hepatocellular Carcinoma</text>
<text x="453.00" y="781.28" font-size="23.85" text-anchor="end" fill="#262626">Lung Adenocarcinoma</text>
<text x="453.00" y="826.69" font-size="23.85" text-anchor="end" fill="#262626">Lung Squamous Cell Carcinoma</text>
<text x="453.00" y="860.91" font-size="23.85" text-anchor="end" fill="#262626">Lymphoid Neoplasm Diffuse Large</text>
<text x="453.00" y="886.41" font-size="23.85" text-anchor="end" fill="#262626">B-Cell Lymphoma</text>
<text x="453.00" y="917.52" font-size="23.85" text-anchor="end" fill="#262626">Mesothelioma</text>
<text x="453.00" y="962.93" font-size="23.85" text-anchor="end" fill="#262626">Ovarian Serous Cystadenocarcinoma</text>
<text x="453.00" y="1008.34" font-size="23.85" text-anchor="end" fill="#262626">Pancreatic Adenocarcinoma</text>
<text x="453.00" y="1053.76" font-size="23.85" text-anchor="end" fill="#262626">Pheochromocytoma And Paraganglioma</text>
<text x="453.00" y="1099.17" font-size="23.85" text-anchor="end" fill="#262626">Prostate Adenocarcinoma</text>
<text x="453.00" y="1144.58" font-size="23.85" text-anchor="end" fill="#262626">Rectum Adenocarcinoma</text>
<text x="453.00" y="1189.99" font-size="23.85" text-anchor="end" fill="#262626">Sarcoma</text>
<text x="453.00" y="1235.41" font-size="23.85" text-anchor="end" fill="#262626">Skin Cutaneous Melanoma</text>
<text x="453.00" y="1280.82" font-size="23.85" text-anchor="end" fill="#262626">Stomach Adenocarcinoma</text>
<text x="453.00" y="1326.23" font-size="23.85" text-anchor="end" fill="#262626">Testicular Germ Cell Tumors</text>
<text x="453.00" y="1371.64" font-size="23.85" text-anchor="end" fill="#262626">Thymoma</text>
<text x="453.00" y="1417.06" font-size="23.85" text-anchor="end" fill="#262626">Thyroid Carcinoma</text>
<text x="453.00" y="1462.47" font-size="23.85" text-anchor="end" fill="#262626">Uterine Carcinosarcoma</text>
<text x="453.00" y="1496.68" font-size="23.85" text-anchor="end" fill="#262626">Uterine Corpus Endometrial</text>
<text x="453.00" y="1522.18" font-size="23.85" text-anchor="end" fill="#262626">Carcinoma</text>
<text x="453.00" y="1553.29" font-size="23.85" text-anchor="end" fill="#262626">Uveal Melanoma</text>
<text transform="translate(499.20,1588.73) rotate(-45)" font-size="23.85" text-anchor="end" fill="#262626">gpt-4o-mini</text>
<text transform="translate(579.09,1588.73) rotate(-45)" font-size="23.85" text-anchor="end" fill="#262626">gpt-4o</text>
<text transform="translate(658.98,1588.73) rotate(-45)" font-size="23.85" text-anchor="end" fill="#262626">llama3-8b</text>
<text transform="translate(738.86,1588.73) rotate(-45)" font-size="23.85" text-anchor="end" fill="#262626">llama3-70b</text>
<text transform="translate(818.75,1588.73) rotate(-45)" font-size="23.85" text-anchor="end" fill="#262626">mistral-medium</text>
<text transform="translate(898.64,1588.73) rotate(-45)" font-size="23.85" text-anchor="end" fill="#262626">mistral-large</text>
<text transform="translate(978.53,1588.73) rotate(-45)" font-size="23.85" text-anchor="end" fill="#262626">gpt-4o-mini-ft</text>
<text transform="translate(1058.41,1588.73) rotate(-45)" font-size="23.85" text-anchor="end" fill="#262626">pathllama3.1-8b</text>
<text x="782.35" y="1733.00" font-size="23.85" text-anchor="middle" fill="#262626">LLM</text>
<text transform="translate(17.9,840.30) rotate(-90)" font-size="23.85" text-anchor="middle" fill="#262626">Diseases</text>
<text class="k" transform="translate(175.6,58.8) scale(1,1.04)" font-size="30" fill="#000">A</text>
<text class="k" transform="translate(1143.0,119.8) scale(1,1.04)" font-size="30" fill="#000">B</text>
<text class="k" transform="translate(1142.8,994.2) scale(1,1.04)" font-size="30" fill="#000">C</text>
<rect x="1243.6" y="4.0" width="715.2" height="133.2" rx="4.5" fill="#fff" stroke="#cccccc" stroke-width="1.5"/>
<text x="1601.20" y="30.00" font-size="23.85" text-anchor="middle" fill="#262626">LLMs</text>
<rect x="1252.9" y="47.50" width="42.4" height="13.5" fill="#f08080"/>
<text x="1313.70" y="62.10" font-size="21.8" text-anchor="start" fill="#262626">gpt-4o-mini</text>
<rect x="1252.9" y="78.60" width="42.4" height="13.5" fill="#cd5c5c"/>
<text x="1313.70" y="93.20" font-size="21.8" text-anchor="start" fill="#262626">gpt-4o</text>
<rect x="1252.9" y="109.70" width="42.4" height="13.5" fill="#6495ed"/>
<text x="1313.70" y="124.30" font-size="21.8" text-anchor="start" fill="#262626">llama3-8b</text>
<rect x="1467.3" y="47.50" width="42.4" height="13.5" fill="#4169e1"/>
<text x="1528.10" y="62.10" font-size="21.8" text-anchor="start" fill="#262626">llama3-70b</text>
<rect x="1467.3" y="78.60" width="42.4" height="13.5" fill="#ba55d3"/>
<text x="1528.10" y="93.20" font-size="21.8" text-anchor="start" fill="#262626">mistral-medium</text>
<rect x="1467.3" y="109.70" width="42.4" height="13.5" fill="#9400d3"/>
<text x="1528.10" y="124.30" font-size="21.8" text-anchor="start" fill="#262626">mistral-large</text>
<rect x="1721.5" y="47.50" width="42.4" height="13.5" fill="#006400"/>
<text x="1782.30" y="62.10" font-size="21.8" text-anchor="start" fill="#262626">gpt-4o-mini-ft</text>
<rect x="1721.5" y="78.60" width="42.4" height="13.5" fill="#228b22"/>
<text x="1782.30" y="93.20" font-size="21.8" text-anchor="start" fill="#262626">pathllama3.1-8b</text>
<rect x="1721.5" y="109.70" width="42.4" height="13.5" fill="#d3d3d3"/>
<text x="1782.30" y="124.30" font-size="21.8" text-anchor="start" fill="#262626">Instruction Tuned</text>
<line x1="1207.2" x2="1988.2" y1="641.48" y2="641.48" stroke="#cccccc" stroke-width="1.7"/>
<line x1="1207.2" x2="1988.2" y1="548.16" y2="548.16" stroke="#cccccc" stroke-width="1.7"/>
<line x1="1207.2" x2="1988.2" y1="454.84" y2="454.84" stroke="#cccccc" stroke-width="1.7"/>
<line x1="1207.2" x2="1988.2" y1="361.52" y2="361.52" stroke="#cccccc" stroke-width="1.7"/>
<line x1="1207.2" x2="1988.2" y1="268.20" y2="268.20" stroke="#cccccc" stroke-width="1.7"/>
<rect x="1207.2" y="248.0" width="781.0" height="486.79999999999995" fill="none" stroke="#cccccc" stroke-width="1.6"/>
<rect x="1792.15" y="247.10" width="196.95" height="488.60" fill="#d3d3d3" fill-opacity="0.9"/>
<rect x="1216.31" y="285.00" width="78.80" height="449.80" fill="#e28e8e" stroke="#fff" stroke-width="1.5"/>
<rect x="1313.94" y="279.50" width="78.80" height="455.30" fill="#bf6a6a" stroke="#fff" stroke-width="1.5"/>
<rect x="1411.56" y="432.60" width="78.80" height="302.20" fill="#759adc" stroke="#fff" stroke-width="1.5"/>
<rect x="1509.19" y="281.30" width="78.80" height="453.50" fill="#5573cd" stroke="#fff" stroke-width="1.5"/>
<rect x="1606.81" y="317.30" width="78.80" height="417.50" fill="#b065c3" stroke="#fff" stroke-width="1.5"/>
<rect x="1704.44" y="277.90" width="78.80" height="456.90" fill="#891ab9" stroke="#fff" stroke-width="1.5"/>
<rect x="1802.06" y="271.20" width="78.80" height="463.60" fill="#0c580c" stroke="#fff" stroke-width="1.5"/>
<rect x="1899.69" y="285.10" width="78.80" height="449.70" fill="#2f7e2f" stroke="#fff" stroke-width="1.5"/>
<path d="M1792.15 248.0H1207.2V734.8H1989.15" fill="none" stroke="#cccccc" stroke-width="1.6"/>
<path d="M1256.01 283.90V286.00M1245.61 283.90H1266.41M1245.61 286.00H1266.41" stroke="#000" stroke-width="1.7" fill="none"/>
<path d="M1353.64 277.90V281.00M1343.24 277.90H1364.04M1343.24 281.00H1364.04" stroke="#000" stroke-width="1.7" fill="none"/>
<path d="M1451.26 426.30V439.10M1440.86 426.30H1461.66M1440.86 439.10H1461.66" stroke="#000" stroke-width="1.7" fill="none"/>
<path d="M1548.89 281.00V281.40M1538.49 281.00H1559.29M1538.49 281.40H1559.29" stroke="#000" stroke-width="1.7" fill="none"/>
<path d="M1646.51 317.20V317.60M1636.11 317.20H1656.91M1636.11 317.60H1656.91" stroke="#000" stroke-width="1.7" fill="none"/>
<path d="M1744.14 277.80V278.20M1733.74 277.80H1754.54M1733.74 278.20H1754.54" stroke="#000" stroke-width="1.7" fill="none"/>
<path d="M1841.76 271.10V271.50M1831.36 271.10H1852.16M1831.36 271.50H1852.16" stroke="#000" stroke-width="1.7" fill="none"/>
<path d="M1939.39 281.80V289.10M1928.99 281.80H1949.79M1928.99 289.10H1949.79" stroke="#000" stroke-width="1.7" fill="none"/>
<text x="1194.60" y="743.50" font-size="25.5" text-anchor="end" fill="#262626">0.0</text>
<text x="1194.60" y="650.18" font-size="25.5" text-anchor="end" fill="#262626">0.2</text>
<text x="1194.60" y="556.86" font-size="25.5" text-anchor="end" fill="#262626">0.4</text>
<text x="1194.60" y="463.54" font-size="25.5" text-anchor="end" fill="#262626">0.6</text>
<text x="1194.60" y="370.22" font-size="25.5" text-anchor="end" fill="#262626">0.8</text>
<text x="1194.60" y="276.90" font-size="25.5" text-anchor="end" fill="#262626">1.0</text>
<text x="1597.70" y="240.10" font-size="30.6" text-anchor="middle" fill="#262626">Cancer Identification Accuracy across all diseases</text>
<text transform="translate(1149.2,491.40) rotate(-90)" font-size="25.7" text-anchor="middle" fill="#262626">Mean Accuracy</text>
<text transform="translate(1256.01,799.53) rotate(-45)" y="6.57" font-size="25.5" text-anchor="middle" fill="#262626">gpt-4o-mini</text>
<text transform="translate(1353.64,779.99) rotate(-45)" y="6.57" font-size="25.5" text-anchor="middle" fill="#262626">gpt-4o</text>
<text transform="translate(1451.26,794.02) rotate(-45)" y="6.57" font-size="25.5" text-anchor="middle" fill="#262626">llama3-8b</text>
<text transform="translate(1548.89,799.03) rotate(-45)" y="6.57" font-size="25.5" text-anchor="middle" fill="#262626">llama3-70b</text>
<text transform="translate(1646.51,816.04) rotate(-45)" y="6.57" font-size="25.5" text-anchor="middle" fill="#262626">mistral-medium</text>
<text transform="translate(1744.14,804.02) rotate(-45)" y="6.57" font-size="25.5" text-anchor="middle" fill="#262626">mistral-large</text>
<text transform="translate(1841.76,807.54) rotate(-45)" y="6.57" font-size="25.5" text-anchor="middle" fill="#262626">gpt-4o-mini-ft</text>
<text transform="translate(1939.39,819.08) rotate(-45)" y="6.57" font-size="25.5" text-anchor="middle" fill="#262626">pathllama3.1-8b</text>
<text x="1597.70" y="916.20" font-size="25.7" text-anchor="middle" fill="#262626">LLM</text>
<line x1="1207.2" x2="1988.2" y1="1456.22" y2="1456.22" stroke="#cccccc" stroke-width="1.7"/>
<line x1="1207.2" x2="1988.2" y1="1363.14" y2="1363.14" stroke="#cccccc" stroke-width="1.7"/>
<line x1="1207.2" x2="1988.2" y1="1270.06" y2="1270.06" stroke="#cccccc" stroke-width="1.7"/>
<line x1="1207.2" x2="1988.2" y1="1176.98" y2="1176.98" stroke="#cccccc" stroke-width="1.7"/>
<line x1="1207.2" x2="1988.2" y1="1083.90" y2="1083.90" stroke="#cccccc" stroke-width="1.7"/>
<rect x="1207.2" y="1062.4" width="781.0" height="486.89999999999986" fill="none" stroke="#cccccc" stroke-width="1.6"/>
<rect x="1792.15" y="1061.50" width="196.95" height="488.70" fill="#d3d3d3" fill-opacity="0.9"/>
<rect x="1216.31" y="1093.40" width="78.80" height="455.90" fill="#e28e8e" stroke="#fff" stroke-width="1.5"/>
<rect x="1313.94" y="1090.40" width="78.80" height="458.90" fill="#bf6a6a" stroke="#fff" stroke-width="1.5"/>
<rect x="1411.56" y="1195.60" width="78.80" height="353.70" fill="#759adc" stroke="#fff" stroke-width="1.5"/>
<rect x="1509.19" y="1091.40" width="78.80" height="457.90" fill="#5573cd" stroke="#fff" stroke-width="1.5"/>
<rect x="1606.81" y="1116.30" width="78.80" height="433.00" fill="#b065c3" stroke="#fff" stroke-width="1.5"/>
<rect x="1704.44" y="1089.20" width="78.80" height="460.10" fill="#891ab9" stroke="#fff" stroke-width="1.5"/>
<rect x="1802.06" y="1085.80" width="78.80" height="463.50" fill="#0c580c" stroke="#fff" stroke-width="1.5"/>
<rect x="1899.69" y="1093.00" width="78.80" height="456.30" fill="#2f7e2f" stroke="#fff" stroke-width="1.5"/>
<path d="M1792.15 1062.4H1207.2V1549.3H1989.15" fill="none" stroke="#cccccc" stroke-width="1.6"/>
<path d="M1256.01 1092.70V1093.90M1245.61 1092.70H1266.41M1245.61 1093.90H1266.41" stroke="#000" stroke-width="1.7" fill="none"/>
<path d="M1353.64 1089.20V1091.00M1343.24 1089.20H1364.04M1343.24 1091.00H1364.04" stroke="#000" stroke-width="1.7" fill="none"/>
<path d="M1451.26 1190.50V1201.00M1440.86 1190.50H1461.66M1440.86 1201.00H1461.66" stroke="#000" stroke-width="1.7" fill="none"/>
<path d="M1548.89 1091.20V1091.60M1538.49 1091.20H1559.29M1538.49 1091.60H1559.29" stroke="#000" stroke-width="1.7" fill="none"/>
<path d="M1646.51 1116.70V1117.10M1636.11 1116.70H1656.91M1636.11 1117.10H1656.91" stroke="#000" stroke-width="1.7" fill="none"/>
<path d="M1744.14 1088.70V1089.10M1733.74 1088.70H1754.54M1733.74 1089.10H1754.54" stroke="#000" stroke-width="1.7" fill="none"/>
<path d="M1841.76 1085.70V1086.10M1831.36 1085.70H1852.16M1831.36 1086.10H1852.16" stroke="#000" stroke-width="1.7" fill="none"/>
<path d="M1939.39 1090.80V1094.40M1928.99 1090.80H1949.79M1928.99 1094.40H1949.79" stroke="#000" stroke-width="1.7" fill="none"/>
<text x="1194.60" y="1558.00" font-size="25.5" text-anchor="end" fill="#262626">0.0</text>
<text x="1194.60" y="1464.92" font-size="25.5" text-anchor="end" fill="#262626">0.2</text>
<text x="1194.60" y="1371.84" font-size="25.5" text-anchor="end" fill="#262626">0.4</text>
<text x="1194.60" y="1278.76" font-size="25.5" text-anchor="end" fill="#262626">0.6</text>
<text x="1194.60" y="1185.68" font-size="25.5" text-anchor="end" fill="#262626">0.8</text>
<text x="1194.60" y="1092.60" font-size="25.5" text-anchor="end" fill="#262626">1.0</text>
<text x="1597.70" y="1054.50" font-size="30.6" text-anchor="middle" fill="#262626">Cancer Identification F1 Score across all diseases</text>
<text transform="translate(1149.2,1305.85) rotate(-90)" font-size="25.7" text-anchor="middle" fill="#262626">Mean F1 Score</text>
<text transform="translate(1256.01,1614.03) rotate(-45)" y="6.57" font-size="25.5" text-anchor="middle" fill="#262626">gpt-4o-mini</text>
<text transform="translate(1353.64,1594.49) rotate(-45)" y="6.57" font-size="25.5" text-anchor="middle" fill="#262626">gpt-4o</text>
<text transform="translate(1451.26,1608.52) rotate(-45)" y="6.57" font-size="25.5" text-anchor="middle" fill="#262626">llama3-8b</text>
<text transform="translate(1548.89,1613.53) rotate(-45)" y="6.57" font-size="25.5" text-anchor="middle" fill="#262626">llama3-70b</text>
<text transform="translate(1646.51,1630.54) rotate(-45)" y="6.57" font-size="25.5" text-anchor="middle" fill="#262626">mistral-medium</text>
<text transform="translate(1744.14,1618.52) rotate(-45)" y="6.57" font-size="25.5" text-anchor="middle" fill="#262626">mistral-large</text>
<text transform="translate(1841.76,1622.04) rotate(-45)" y="6.57" font-size="25.5" text-anchor="middle" fill="#262626">gpt-4o-mini-ft</text>
<text transform="translate(1939.39,1633.58) rotate(-45)" y="6.57" font-size="25.5" text-anchor="middle" fill="#262626">pathllama3.1-8b</text>
<text x="1597.70" y="1730.60" font-size="25.7" text-anchor="middle" fill="#262626">LLM</text>
</svg>
</body></html>
